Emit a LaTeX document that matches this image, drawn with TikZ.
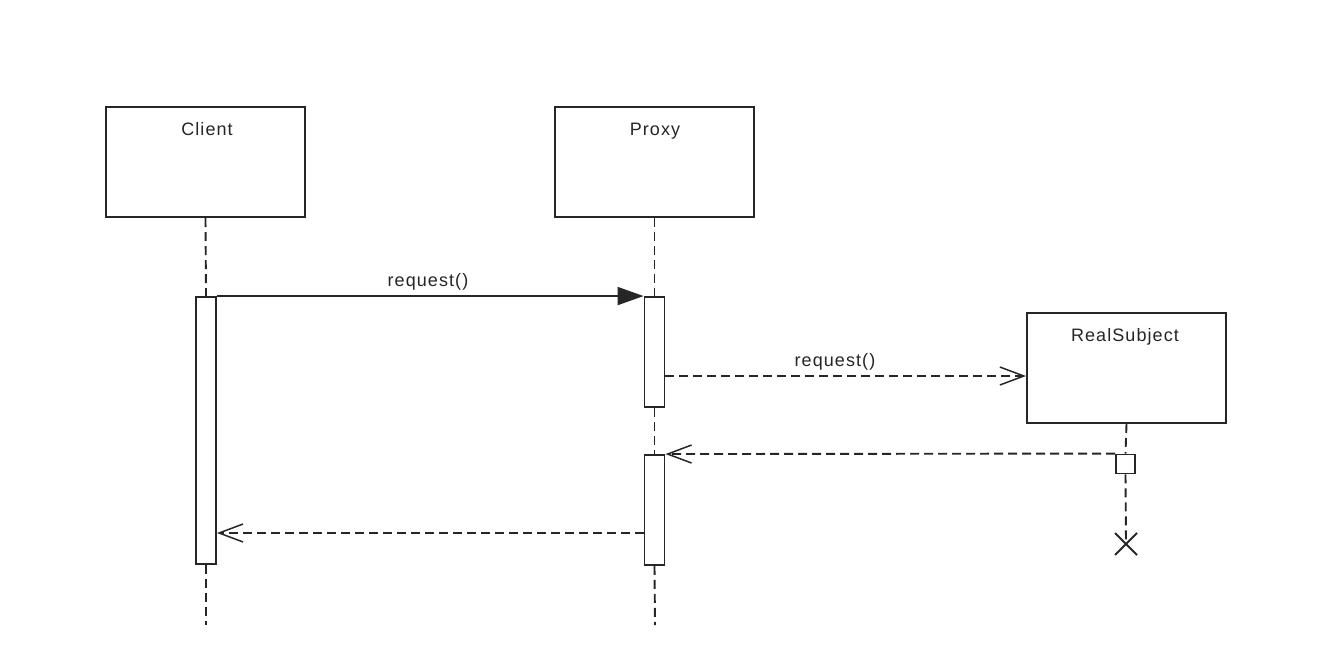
\documentclass[tikz,border=0pt]{standalone}
\usepackage{fontspec}
\setmainfont{Liberation Sans}[LetterSpace=6]
\usetikzlibrary{arrows.meta,calc}
\begin{document}
\begin{tikzpicture}[x=1pt,y=-1pt,
  objbox/.style={draw=black!85,line width=2pt,minimum width=199pt,minimum height=110pt,inner sep=0pt,fill=white},
  actbox/.style={draw=black!85,line width=1.9pt,minimum width=20pt,inner sep=0pt,fill=white},
  lbl/.style={font=\fontsize{18}{20}\selectfont,text=black!85,inner sep=0pt,anchor=base},
  life/.style={draw=black!85,line width=1.9pt,dash pattern=on 9pt off 5pt},
  msg/.style={draw=black!85,line width=1.9pt},
  dmsg/.style={draw=black!85,line width=1.9pt,dash pattern=on 9pt off 5pt},
  filledtip/.style={-{Triangle[length=26pt,width=18pt]}},
  opentip/.style={-{Straight Barb[length=24pt,width=18pt,line width=1.5pt]}}]
\useasboundingbox (0,0) rectangle (1342,662);
\fill[white] (0,0) rectangle (1342,662);
% objects
\node[objbox] (client) at (205.5,162) {};
\node[objbox] (proxy) at (654.5,162) {};
\node[objbox] (real) at (1126.5,368) {};
\node[lbl] (clientlbl) at (207,135) {Client};
\node[lbl] (proxylbl) at (655,135) {Proxy};
\node[lbl] (reallbl) at (1125,341) {RealSubject};
% activations
\node[actbox,minimum height=267pt] (cact) at (206,430.5) {};
\node[actbox,minimum height=110pt] (pact1) at (654.5,352) {};
\node[actbox,minimum height=110pt] (pact2) at (654.5,510) {};
\node[draw=black!85,line width=1.9pt,minimum size=19pt,inner sep=0pt,fill=white] (sq) at (1125.5,464) {};
\coordinate (cend) at (206,625);
\coordinate (pend) at (655,625);
\coordinate (xmark) at (1126,544);
% lifelines
\draw[life] (client.south) -- (cact.north);
\draw[life] (cact.south) -- (cend);
\draw[life] (proxy.south) -- (pact1.north);
\draw[life] (pact1.south) -- (pact2.north);
\draw[life] (pact2.south) -- (pend);
\draw[life] (real.south) -- (sq.north);
\draw[life] (sq.south) -- (xmark);
\draw[black!85,line width=1.9pt] ($(xmark)+(-11,-11)$) -- ($(xmark)+(11,11)$)
  ($(xmark)+(-11,11)$) -- ($(xmark)+(11,-11)$);
% messages
\draw[msg,filledtip] (cact.north east) -- (pact1.north west);
\node[lbl] (m1) at (428,286) {request()};
\draw[dmsg,opentip] (pact1.east |- 0,376) -- (real.west |- 0,376);
\node[lbl] (m2) at (835,366) {request()};
\draw[dmsg,opentip] (sq.north west) -- (pact2.north east);
\draw[dmsg,opentip] (pact2.west |- 0,533) -- (cact.east |- 0,533);
\end{tikzpicture}
\end{document}
